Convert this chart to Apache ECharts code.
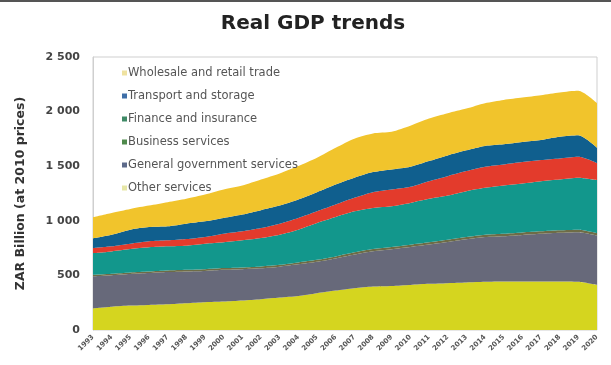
<!DOCTYPE html>
<html>
<head>
<meta charset="utf-8">
<script src="https://cdn.jsdelivr.net/npm/echarts@6/dist/echarts.min.js"></script>
<style>
  html, body { margin: 0; padding: 0; background: #fff; }
  #chart { width: 611px; height: 365px; }
</style>
</head>
<body>
<div id="chart"></div>
<script>
// Years on the category axis
const years = ['1993','1994','1995','1996','1997','1998','1999','2000','2001','2002',
  '2003','2004','2005','2006','2007','2008','2009','2010','2011','2012',
  '2013','2014','2015','2016','2017','2018','2019','2020'];

// Sector output, ZAR billion at 2010 prices (stacked bottom to top)
const otherServices = [199,214,224,230,236,245,254,260,270,282,297,312,337,361,383,398,404,413,423,429,435,441,444,444,444,444,441,413];
const generalGovernment = [292,287,288,291,294,291,287,291,287,283,283,289,288,294,308,323,336,347,359,376,395,410,415,427,437,446,455,453];
const businessServices = [14,14,15,15,15,15,16,16,16,17,17,18,18,19,20,20,20,21,21,22,22,22,23,23,23,23,23,22];
const financeInsurance = [199,205,214,221,221,221,233,236,248,260,276,300,337,361,376,377,373,383,398,404,419,429,441,448,459,465,475,484];
const personalServices = [46,46,49,55,55,61,62,79,83,92,101,107,107,114,123,144,153,147,162,178,184,193,193,196,193,193,193,158];
const transportStorage = [90,107,129,131,129,141,143,144,153,163,165,169,175,183,184,184,184,184,184,190,190,190,184,183,184,199,196,139];
const wholesaleRetail = [193,199,190,196,220,227,245,260,266,281,294,306,315,337,358,354,345,375,389,386,383,392,407,408,410,405,407,408];

// Y-axis ticks
const yTicks = [0, 500, 1000, 1500, 2000, 2500];

const FONT = 'DejaVu Sans, Verdana, sans-serif';

const layers = [
  { name: 'Other services', data: otherServices, color: '#d5d51f', legend: '#e6e6a6' },
  { name: 'General government services', data: generalGovernment, color: '#67697a', legend: '#5d6a8a' },
  { name: 'Business services', data: businessServices, color: '#6e6c46', legend: '#4f8a4c' },
  { name: 'Finance and insurance', data: financeInsurance, color: '#12978c', legend: '#3f8a66' },
  { name: 'Personal services', data: personalServices, color: '#e33b2c', legend: null },
  { name: 'Transport and storage', data: transportStorage, color: '#105f8e', legend: '#3f6fa8' },
  { name: 'Wholesale and retail trade', data: wholesaleRetail, color: '#f1c42c', legend: '#efe2a0' }
];

const legendOrder = ['Wholesale and retail trade','Transport and storage','Finance and insurance',
  'Business services','General government services','Other services'];

const chart = echarts.init(document.getElementById('chart'), null, { renderer: 'canvas' });

chart.setOption({
  animation: false,
  backgroundColor: '#fff',
  title: {
    text: 'Real GDP trends',
    left: 308, top: 9, textAlign: 'center',
    textStyle: { fontFamily: FONT, fontSize: 20, fontWeight: 'bold', color: '#222' }
  },
  graphic: [
    { type: 'rect', shape: { x: 0, y: 0, width: 611, height: 2 }, style: { fill: '#555' }, silent: true }
  ],
  legend: {
    orient: 'vertical',
    left: 117, top: 61,
    itemWidth: 5, itemHeight: 5, itemGap: 9,
    icon: 'rect',
    textStyle: { fontFamily: FONT, fontSize: 11.5, lineHeight: 14, color: '#555', padding: [0, 0, 0, -4] },
    data: legendOrder.map(n => {
      const l = layers.find(x => x.name === n);
      return { name: n, itemStyle: { color: l.legend } };
    })
  },
  grid: {
    left: 93, right: 14, top: 57, bottom: 35,
    show: true, borderColor: '#cfcfcf', borderWidth: 1, backgroundColor: 'transparent'
  },
  xAxis: {
    type: 'category',
    data: years,
    boundaryGap: false,
    axisLine: { show: false },
    axisTick: { show: false },
    axisLabel: {
      interval: 0, rotate: 45, margin: 6,
      fontFamily: FONT, fontSize: 7, fontWeight: 'bold', color: '#555'
    }
  },
  yAxis: {
    type: 'value',
    min: yTicks[0], max: yTicks[yTicks.length - 1], interval: 500,
    name: 'ZAR Billion (at 2010 prices)',
    nameLocation: 'middle', nameGap: 66, nameRotate: 90,
    nameTextStyle: { fontFamily: FONT, fontSize: 12.5, fontWeight: 'bold', color: '#333' },
    axisLine: { show: true, lineStyle: { color: '#cfcfcf' } },
    axisTick: { show: false },
    splitLine: { show: false },
    axisLabel: {
      margin: 13,
      fontFamily: FONT, fontSize: 11, fontWeight: 'bold', color: '#444',
      formatter: v => String(v).replace(/\B(?=(\d{3})+(?!\d))/g, ' ')
    }
  },
  series: layers.map(l => ({
    name: l.name,
    type: 'line',
    stack: 'gdp',
    data: l.data,
    symbol: 'none',
    smooth: 0.25,
    lineStyle: { width: 0 },
    itemStyle: { color: l.color },
    areaStyle: { color: l.color, opacity: 1 }
  }))
});
</script>
</body>
</html>
